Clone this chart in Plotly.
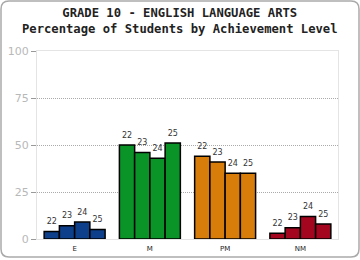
import plotly.graph_objects as go

categories = ["E", "M", "PM", "NM"]
years = ["22", "23", "24", "25"]
values = {
    "22": [4, 50, 44, 3],
    "23": [7, 46, 41, 6],
    "24": [9, 43, 35, 12],
    "25": [5, 51, 35, 8],
}
cat_colors = ["#0e3f8a", "#0a9428", "#d97d0a", "#a5061f"]
y_ticks = [0, 25, 50, 75, 100]
title1 = "GRADE 10 - ENGLISH LANGUAGE ARTS"
title2 = "Percentage of Students by Achievement Level"

W, H = 360, 260
ML, MR, MT, MB = 37, 22, 51, 21
PW, PH = W - ML - MR, H - MT - MB

def px(x):
    return (x - ML) / PW

def py(y):
    return (H - MB - y) / PH

fig = go.Figure()
for yr in years:
    fig.add_trace(go.Bar(
        x=categories, y=values[yr], name=yr,
        offsetgroup=yr,
        marker=dict(color=cat_colors, line=dict(color="#000000", width=1.5)),
    ))
for yr in years:
    fig.add_trace(go.Scatter(
        x=categories, y=values[yr], name=yr + " label",
        offsetgroup=yr, mode="markers+text",
        text=[yr] * len(categories), textposition="top center",
        textfont=dict(family="DejaVu Sans", size=8, color="#333333"),
        marker=dict(size=7, opacity=0),
        cliponaxis=False, hoverinfo="skip",
    ))

# rounded border
x0, x1, y0, y1, r = 1, 359, 1, 257, 8
path = (f"M {px(x0 + r)} {py(y0)} L {px(x1 - r)} {py(y0)} "
        f"Q {px(x1)} {py(y0)} {px(x1)} {py(y0 + r)} L {px(x1)} {py(y1 - r)} "
        f"Q {px(x1)} {py(y1)} {px(x1 - r)} {py(y1)} L {px(x0 + r)} {py(y1)} "
        f"Q {px(x0)} {py(y1)} {px(x0)} {py(y1 - r)} L {px(x0)} {py(y0 + r)} "
        f"Q {px(x0)} {py(y0)} {px(x0 + r)} {py(y0)} Z")

fig.update_layout(
    width=W, height=H,
    margin=dict(l=ML, r=MR, t=MT, b=MB, pad=0),
    paper_bgcolor="white", plot_bgcolor="white",
    showlegend=False,
    barmode="group", bargap=0.19, bargroupgap=0,
    scattermode="group", scattergap=0.19,
    shapes=[dict(type="path", xref="paper", yref="paper", path=path,
                 line=dict(color="#aaaaaa", width=1.5), layer="above")],
    annotations=[
        dict(text=f"<b>{title1}</b><br><b>{title2}</b>", xref="paper", yref="paper",
             x=px(180), y=py(20.5), xanchor="center", yanchor="middle",
             showarrow=False,
             font=dict(family="DejaVu Sans Mono", size=12.2, color="#222222")),
    ],
    xaxis=dict(
        showline=True, linecolor="#e4e4e4", linewidth=1, mirror=True,
        showgrid=False, ticks="", ticklabelstandoff=3, automargin=False,
        tickfont=dict(family="DejaVu Sans", size=7, color="#222222"),
        fixedrange=True,
    ),
    yaxis=dict(
        range=[0, 100], tickvals=y_ticks, automargin=False,
        showline=True, linecolor="#e4e4e4", linewidth=1, mirror=True,
        showgrid=True, gridcolor="#aaaaaa", griddash="1px,1px", gridwidth=1,
        zeroline=False,
        ticks="outside", ticklen=5, tickcolor="#999999", tickwidth=1,
        tickfont=dict(family="DejaVu Sans", size=11, color="#b8b8b8"),
        fixedrange=True,
    ),
)

fig.write_html("out.html")
